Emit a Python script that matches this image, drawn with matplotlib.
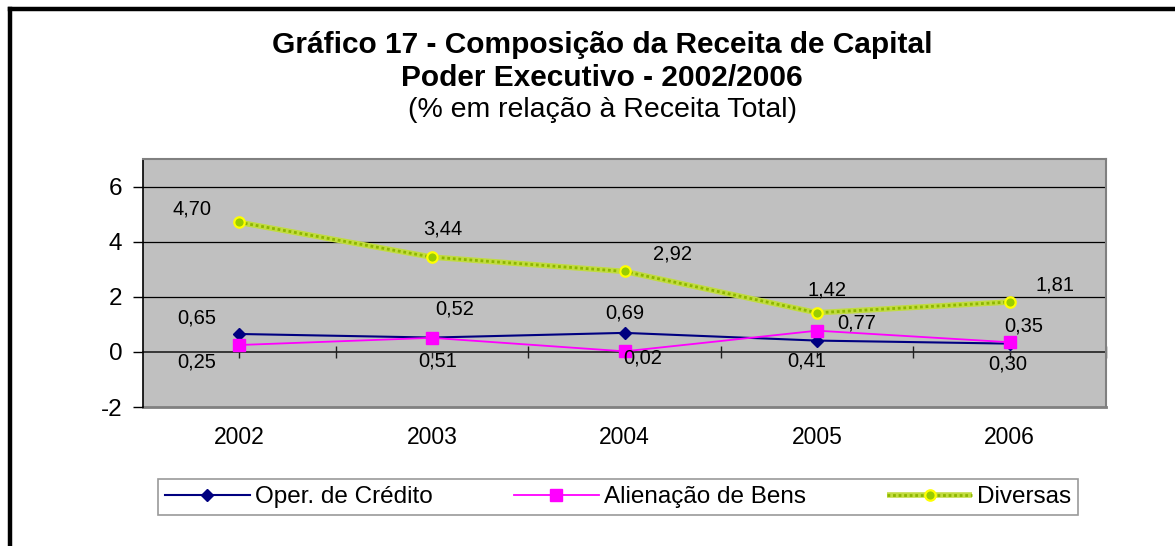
import matplotlib
matplotlib.use("Agg")
import matplotlib.pyplot as plt
from matplotlib.lines import Line2D
from matplotlib.ticker import FixedLocator, NullFormatter
from matplotlib.legend_handler import HandlerTuple

# ---------------- data ----------------
years = ["2002", "2003", "2004", "2005", "2006"]
oper_credito = [0.65, 0.52, 0.69, 0.41, 0.30]
alienacao_bens = [0.25, 0.51, 0.02, 0.77, 0.35]
diversas = [4.70, 3.44, 2.92, 1.42, 1.81]
y_ticks = [-2, 0, 2, 4, 6]
series_names = ["Oper. de Crédito", "Alienação de Bens", "Diversas"]

title_1 = "Gráfico 17 - Composição da Receita de Capital"
title_2 = "Poder Executivo - 2002/2006"
title_3 = "(% em relação à Receita Total)"

# label offsets (pixels) - styling only
off_oper = [(-43, 16), (23, 29), (0, 20), (-10, -20), (-2, -20)]
off_alien = [(-43, -17), (6, -23), (18, -7), (40, 8), (14, 16)]
off_div = [(-47, 13), (11, 28), (48, 17), (10, 23), (45, 17)]

plt.rcParams['font.family'] = ['Liberation Sans', 'DejaVu Sans']

W, H = 1175, 546
fig = plt.figure(figsize=(W / 100, H / 100), dpi=100)
fig.patch.set_facecolor('white')

# outer border (left and top visible)
fig.add_artist(Line2D([10 / W, 10 / W], [0, 1 - 8.5 / H], color='black', lw=3.2,
                      transform=fig.transFigure, solid_capstyle='projecting'))
fig.add_artist(Line2D([10 / W, 1.0], [1 - 8.5 / H, 1 - 8.5 / H], color='black', lw=3.2,
                      transform=fig.transFigure, solid_capstyle='projecting'))

# titles
cx = 602 / W
fig.text(cx, 1 - 53 / H, title_1, ha='center', va='baseline', fontsize=21.5, fontweight='bold')
fig.text(cx, 1 - 86 / H, title_2, ha='center', va='baseline', fontsize=21.5, fontweight='bold')
fig.text(cx, 1 - 117 / H, title_3, ha='center', va='baseline', fontsize=20.5)

# axes
left, right, top, bottom = 143, 1106, 159, 407
ax = fig.add_axes([left / W, 1 - bottom / H, (right - left) / W, (bottom - top) / H])
ax.set_facecolor('#C0C0C0')
x = list(range(len(years)))
ax.set_xlim(-0.5, len(years) - 0.5)
ax.set_ylim(-2, 7)

# grid lines
for yv in y_ticks:
    if yv > 0:
        ax.axhline(yv, color='black', lw=0.9, zorder=1)

# spines
for s in ['top', 'right']:
    ax.spines[s].set_color('#808080')
    ax.spines[s].set_linewidth(1.5)
ax.spines['left'].set_color('black')
ax.spines['left'].set_linewidth(1.2)
ax.spines['bottom'].set_position(('data', 0))
ax.spines['bottom'].set_color('#202020')
ax.spines['bottom'].set_linewidth(1.2)
ax.spines['bottom'].set_zorder(2)

# x axis at 0: boundary ticks crossing, center ticks downward
ax.xaxis.set_major_locator(FixedLocator([i + 0.5 for i in range(len(years))]))
ax.xaxis.set_major_formatter(NullFormatter())
ax.xaxis.set_minor_locator(FixedLocator(x))
ax.tick_params(axis='x', which='major', direction='inout', length=9, width=1, color='#202020')
ax.tick_params(axis='x', which='minor', direction='out', length=4.5, width=1, color='#202020')

# y axis
ax.set_yticks(y_ticks)
ax.set_yticklabels([str(v) for v in y_ticks])
ax.tick_params(axis='y', direction='out', length=7, width=1, color='black', pad=8, labelsize=17.5)

# category labels at bottom of the plot area
sec = ax.secondary_xaxis('bottom')
sec.set_xticks(x)
sec.set_xticklabels(years)
sec.tick_params(length=0, pad=14, labelsize=16.5)
sec.spines['bottom'].set_color('#808080')
sec.spines['bottom'].set_linewidth(2)

# series
l_oper, = ax.plot(x, oper_credito, color='#000080', lw=1.5, marker='D', ms=6.5,
                  mfc='#000080', mec='#000080', zorder=4, label=series_names[0])
l_alien, = ax.plot(x, alienacao_bens, color='#FF00FF', lw=1.3, marker='s', ms=8,
                   mfc='#FF00FF', mec='#FF00FF', zorder=5, label=series_names[1])
l_div_base, = ax.plot(x, diversas, color='#C2DC40', lw=4, solid_capstyle='butt', zorder=4)
l_div, = ax.plot(x, diversas, color='#8DB600', lw=2, dashes=(1, 1), marker='o', ms=7.5,
                 mfc='#99CC00', mec='#FFFF00', mew=1.6, zorder=6)


def fmt(v):
    return f"{v:.2f}".replace('.', ',')


for series, offs in [(oper_credito, off_oper), (alienacao_bens, off_alien), (diversas, off_div)]:
    for xi, v, o in zip(x, series, offs):
        ax.annotate(fmt(v), (xi, v), xytext=o, textcoords='offset pixels',
                    ha='center', va='center', fontsize=14.5, color='black', zorder=7)

# legend
leg = fig.legend([l_oper, l_alien, (l_div_base, l_div)], series_names,
                 handler_map={tuple: HandlerTuple(ndivide=1)},
                 loc='lower left', ncol=3, mode='expand',
                 bbox_to_anchor=(158 / W, 1 - 515 / H, 920 / W, 43 / H),
                 borderaxespad=0, fontsize=17.5, frameon=True, fancybox=False,
                 handlelength=3.5, handletextpad=0.2, borderpad=0.28, numpoints=1)
leg.get_frame().set_edgecolor('#808080')
leg.get_frame().set_linewidth(1.2)

fig.savefig('out.png', dpi=100, facecolor='white')
